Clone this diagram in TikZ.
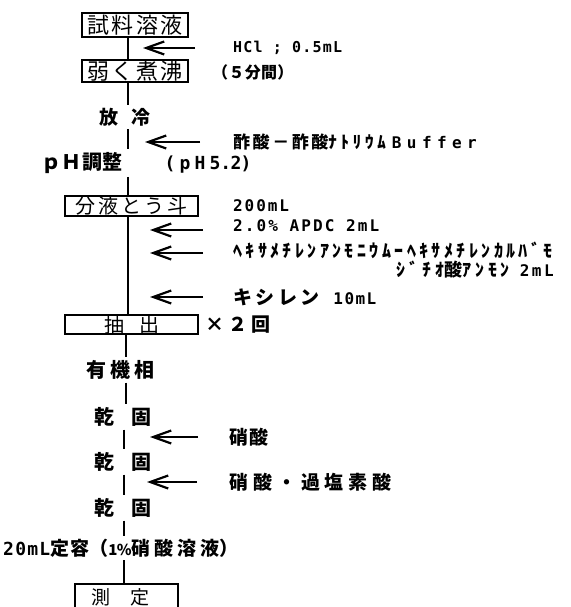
\documentclass[tikz,border=0pt]{standalone}
\usepackage{fontspec}
\setmainfont{Noto Sans CJK JP}
\newfontfamily\jp{Noto Sans CJK JP}
\newfontfamily\hw{DejaVu Sans Mono}
\usetikzlibrary{arrows.meta}
\newcommand\jj[2]{{\jp\addfontfeature{LetterSpace=#1}#2}}
\newcommand\hh[2]{{\hw\addfontfeature{LetterSpace=#1}#2}}
\newcommand\fs[1]{\fontsize{#1}{#1}\selectfont}
\tikzset{
  f15/.style={font=\fs{15}\bfseries},
  f16/.style={font=\fs{16}\bfseries},
  f17/.style={font=\fs{17}\bfseries},
  f18/.style={font=\fs{18}\bfseries},
  f19/.style={font=\fs{19}\bfseries},
  f20/.style={font=\fs{20}\bfseries},
  bx19/.style={font=\fs{19}},
  bx20/.style={font=\fs{20}},
  bx22/.style={font=\fs{22}},
  box/.style={draw, line width=1.8pt, inner sep=0pt},
  lbl/.style={anchor=west, inner sep=0pt},
  stxt/.style={inner sep=3pt},
  flow/.style={line width=2.4pt},
  add/.style={line width=2.4pt, -{Straight Barb[length=18pt,width=13pt,line width=2.2pt]}},
}
\begin{document}
\begin{tikzpicture}[x=1pt,y=-1pt]
\path[use as bounding box, clip] (0,0) rectangle (570,607);
\fill[white] (0,0) rectangle (570,607);
\coordinate (L1) at (128,0);
\coordinate (L2) at (126,0);
\coordinate (L3) at (124,0);
% main column
\node[box, bx22, minimum width=106pt, minimum height=24pt] (b1) at (135,25) {\jj{10}{試料溶液}};
\node[box, bx22, minimum width=106pt, minimum height=22pt] (b2) at (135,71) {\jj{10}{弱く煮沸}};
\node[stxt, f19] (cool) at (125,117) {放\hspace{13pt}冷};
\node[lbl, f20, inner sep=3pt] (ph) at (38,163) {\jj{2.5}{ｐＨ調整}\hspace{42pt}{\fs{18}\hh{23}{(pH5}\hh{-4}{.2)}}};
\node[box, bx20, minimum width=133pt, minimum height=20pt] (b3) at (131.5,206) {\jj{15}{分液とう斗}};
\node[box, bx20, minimum width=133pt, minimum height=19pt] (b4) at (131.5,324.5) {抽\hspace{15pt}出\hspace{14pt}};
\node[stxt, f20] (org) at (120,370) {\jj{20}{有機相}};
\node[stxt, f20] (dry1) at (123,417) {乾\hspace{17pt}固};
\node[stxt, f20] (dry2) at (123,462) {乾\hspace{17pt}固};
\node[stxt, f20] (dry3) at (123,508) {乾\hspace{17pt}固};
\node[lbl, f19, inner sep=3pt] (vol) at (0,548) {{\fs{18}\hh{7}{20mL}}\jj{5}{定容}\jj{0}{（}{\fs{15}\jj{-4}{1\%}}\jj{21}{硝酸溶液}\jj{0}{）}};
\node[box, minimum width=103pt, minimum height=34pt] (b5) at (126.5,601) {};
\node[bx19, inner sep=0pt] (b5t) at (120.5,597) {測\hspace{20pt}定};
% main flow line
\draw[flow] (b1.south -| L1) -- (b2.north -| L1);
\draw[flow] (b2.south -| L1) -- (cool.north -| L1);
\draw[flow] (cool.south -| L1) -- (ph.north -| L1);
\draw[flow] (ph.south -| L1) -- (b3.north -| L1);
\draw[flow] (b3.south -| L1) -- (b4.north -| L1);
\draw[flow] (b4.south -| L2) -- (org.north -| L2);
\draw[flow] (org.south -| L2) -- (dry1.north -| L2);
\draw[flow] (dry1.south -| L3) -- (dry2.north -| L3);
\draw[flow] (dry2.south -| L3) -- (dry3.north -| L3);
\draw[flow] (dry3.south -| L3) -- (vol.north -| L3);
\draw[flow] (vol.south -| L3) -- (b5.north -| L3);
% reagent arrows
\coordinate (a1s) at (195,48);  \coordinate (a1e) at (143,48);
\coordinate (a2s) at (200,142); \coordinate (a2e) at (145,142);
\coordinate (a3s) at (203,230); \coordinate (a3e) at (150,230);
\coordinate (a4s) at (203,253); \coordinate (a4e) at (150,253);
\coordinate (a5s) at (203,297); \coordinate (a5e) at (150,297);
\coordinate (a6s) at (198,437); \coordinate (a6e) at (150,437);
\coordinate (a7s) at (197,482); \coordinate (a7e) at (147,482);
\draw[add] (a1s) -- (a1e);
\draw[add] (a2s) -- (a2e);
\draw[add] (a3s) -- (a3e);
\draw[add] (a4s) -- (a4e);
\draw[add] (a5s) -- (a5e);
\draw[add] (a6s) -- (a6e);
\draw[add] (a7s) -- (a7e);
% labels
\node[lbl, f15] (l1) at (233,48) {\hh{8}{HCl ; 0.5mL}};
\node[lbl, f16] (l2) at (212,72) {\jj{2}{（５分間）}};
\node[lbl, f17] (l3) at (233,142) {\jj{15}{酢酸－酢酸}\jj{22}{ﾅﾄﾘｳﾑ}\hspace{6pt}{\fs{16}\hh{34}{Buffer}}};
\node[lbl, f16] (l4) at (233,206) {\hh{12}{200mL}};
\node[lbl, f16] (l5) at (233,226) {\hh{13}{2.0\% APDC 2mL}};
\node[lbl, f18] (l6) at (233,250) {\jj{19}{ﾍｷｻﾒﾁﾚﾝｱﾝﾓﾆｳﾑｰﾍｷｻﾒﾁﾚﾝｶﾙﾊﾞﾓ}};
\node[lbl, f18] (l7) at (396,270) {\jj{22}{ｼﾞﾁｵ}\jj{6}{酸}\jj{22}{ｱﾝﾓﾝ}\hspace{10pt}{\fs{16}\hh{15}{2mL}}};
\node[lbl, f19] (l8) at (233,297) {\jj{18}{キシレン}\hspace{14pt}{\fs{16}\hh{9}{10mL}}};
\node[lbl, f19] (l9) at (205,325) {\jj{21}{×２回}};
\node[lbl, f19] (l10) at (229,437) {\jj{5}{硝酸}};
\node[lbl, f19] (l11) at (229,482) {\jj{26}{硝酸・過塩素酸}};
\end{tikzpicture}
\end{document}
